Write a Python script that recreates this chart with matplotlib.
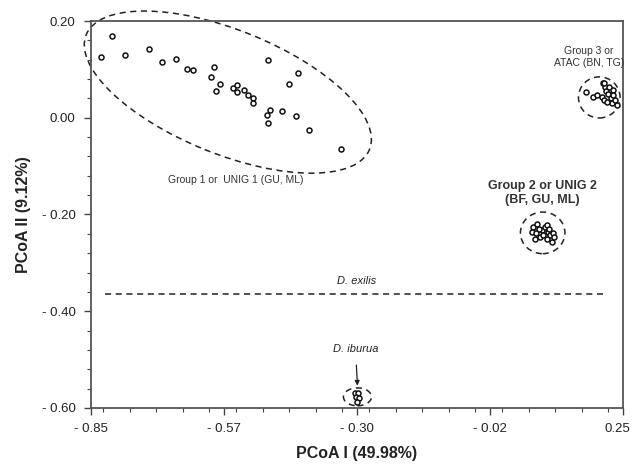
import numpy as np
import matplotlib
matplotlib.use("Agg")
from matplotlib import pyplot as plt
from matplotlib.patches import Ellipse
from matplotlib.ticker import FixedLocator, MultipleLocator
from matplotlib.transforms import ScaledTranslation

plt.rcParams['font.family'] = ['Liberation Sans', 'DejaVu Sans']

# group 1 / UNIG 1
g1_x = [-0.830, -0.807, -0.780, -0.730, -0.703, -0.674, -0.651, -0.639, -0.596, -0.602,
        -0.583, -0.592, -0.556, -0.549, -0.549, -0.534, -0.525, -0.516, -0.516, -0.483,
        -0.480, -0.487, -0.485, -0.454, -0.441, -0.422, -0.427, -0.400, -0.332]
g1_y = [0.125, 0.170, 0.130, 0.142, 0.116, 0.122, 0.100, 0.098, 0.104, 0.084,
        0.069, 0.056, 0.061, 0.068, 0.054, 0.057, 0.046, 0.040, 0.030, 0.119,
        0.016, 0.006, -0.010, 0.013, 0.069, 0.093, 0.004, -0.025, -0.065]

# group 2 / UNIG 2
g2_x = [0.065, 0.072, 0.061, 0.070, 0.068, 0.078, 0.082, 0.089, 0.092, 0.096,
        0.099, 0.092, 0.103, 0.106, 0.085, 0.077, 0.098, 0.107]
g2_y = [-0.225, -0.220, -0.236, -0.239, -0.251, -0.246, -0.232, -0.225, -0.222, -0.236,
        -0.242, -0.251, -0.256, -0.239, -0.242, -0.231, -0.229, -0.247]

# group 3 / ATAC
g3_x = [0.173, 0.189, 0.197, 0.208, 0.213, 0.215, 0.220, 0.206, 0.211, 0.225,
        0.227, 0.233, 0.230, 0.222, 0.216, 0.237, 0.210, 0.229]
g3_y = [0.054, 0.042, 0.047, 0.071, 0.064, 0.056, 0.049, 0.042, 0.037, 0.040,
        0.030, 0.037, 0.057, 0.063, 0.033, 0.026, 0.072, 0.047]

# D. iburua
ib_x = [-0.304, -0.297, -0.302, -0.295, -0.299]
ib_y = [-0.570, -0.568, -0.578, -0.580, -0.587]

exilis_y = -0.365

xticks = [-0.85, -0.575, -0.30, -0.025, 0.25]
xlabels = ["- 0.85", "- 0.57", "- 0.30", "- 0.02", "0.25"]
yticks = [0.20, 0.00, -0.20, -0.40, -0.60]
ylabels = ["0.20", "0.00", "- 0.20", "- 0.40", "- 0.60"]

fig = plt.figure(figsize=(6.34, 4.71), dpi=100)
ax = fig.add_axes([0.1435, 0.1338, 0.8391, 0.8216])

for xs, ys in [(g1_x, g1_y), (g2_x, g2_y), (g3_x, g3_y), (ib_x, ib_y)]:
    ax.scatter(xs, ys, s=13, facecolors='white', edgecolors='#111111', linewidths=1.1, zorder=3)

# dashed ellipses around groups
ell_kw = dict(fill=False, ls=(0, (4, 3)), lw=1.1, ec='#222222', clip_on=False)
ax.add_patch(Ellipse((-0.567, 0.053), 0.632, 0.256, angle=-22, **ell_kw))
ax.add_patch(Ellipse((0.201, 0.042), 0.086, 0.085, **ell_kw))
ax.add_patch(Ellipse((0.084, -0.238), 0.092, 0.086, **ell_kw))
ax.add_patch(Ellipse((-0.299, -0.577), 0.058, 0.037, **ell_kw))

ax.plot([-0.821, 0.213], [exilis_y, exilis_y], ls=(0, (4, 3)), lw=1.1, color='#222222')

ax.text(-0.55, -0.128, "Group 1 or  UNIG 1 (GU, ML)", fontsize=7.5, color='#333333', ha='center', va='center')
ax.text(0.18, 0.125, "Group 3 or\nATAC (BN, TG)", fontsize=7.5, color='#333333', ha='center', va='center', linespacing=1.3)
ax.text(0.083, -0.155, "Group 2 or UNIG 2\n(BF, GU, ML)", fontsize=9, fontweight='bold', color='#333333',
        ha='center', va='center', linespacing=1.25)
ax.text(-0.30, exilis_y + 0.027, "D. exilis", fontsize=8, style='italic', color='#222222', ha='center', va='center')
ax.annotate("D. iburua", xy=(-0.299, -0.554), xytext=(-0.303, -0.478), fontsize=8, style='italic',
            color='#222222', ha='center', va='center',
            arrowprops=dict(arrowstyle='-|>', color='#222222', lw=0.9, mutation_scale=7, shrinkA=6, shrinkB=0))

ax.set_xlim(-0.85, 0.25)
ax.set_ylim(-0.60, 0.20)
ax.xaxis.set_major_locator(FixedLocator(xticks))
ax.set_xticklabels(xlabels)
ax.xaxis.set_minor_locator(MultipleLocator(0.055))
ax.yaxis.set_major_locator(FixedLocator(yticks))
ax.set_yticklabels(ylabels)
ax.yaxis.set_minor_locator(MultipleLocator(0.04))
ax.tick_params(which='major', direction='out', length=5, width=1, colors='#444444', labelsize=9.5,
               labelcolor='#222222', pad=6)
ax.tick_params(which='minor', direction='out', length=3, width=0.8, colors='#444444')

# nudge the last x label so it stays inside the figure
last = ax.get_xticklabels()[-1]
last.set_transform(last.get_transform() + ScaledTranslation(-6 / 100, 0, fig.dpi_scale_trans))

for sp in ax.spines.values():
    sp.set_color('#555555')
    sp.set_linewidth(1.3)

ax.set_xlabel("PCoA I (49.98%)", fontsize=11.5, fontweight='bold', color='#222222', labelpad=8)
ax.set_ylabel("PCoA II (9.12%)", fontsize=11.5, fontweight='bold', color='#222222', labelpad=8)

plt.savefig("out.png", dpi=100)
plt.close()
